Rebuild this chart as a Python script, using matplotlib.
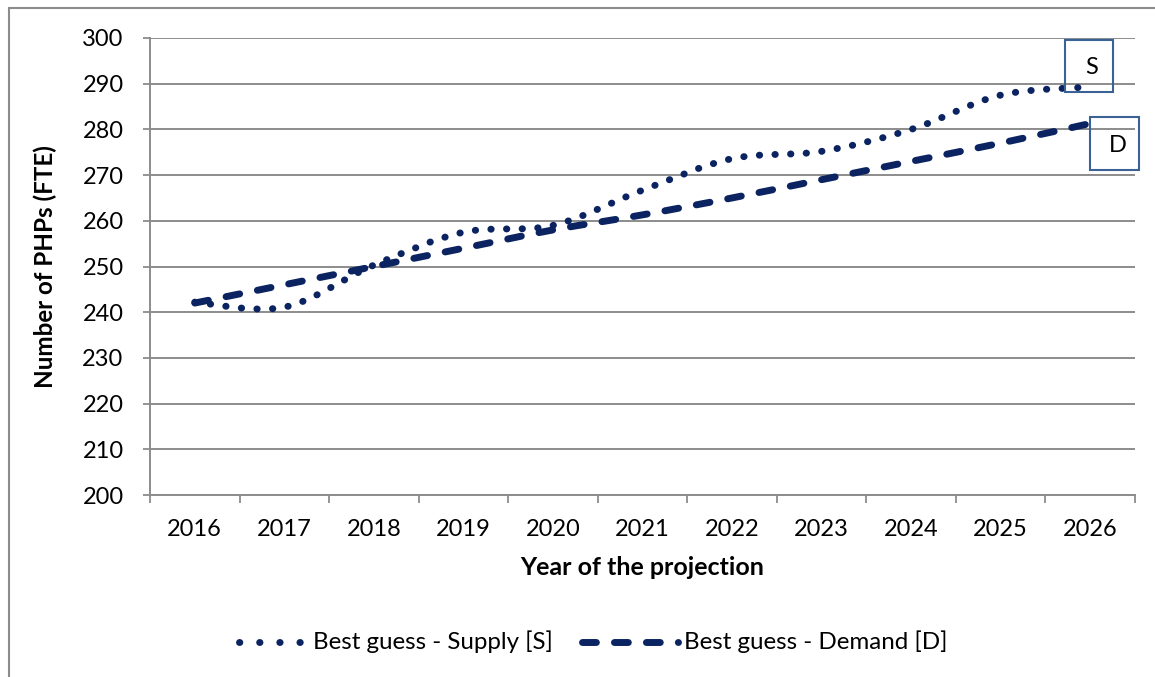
import numpy as np
import matplotlib
matplotlib.use("Agg")
import matplotlib.pyplot as plt
from matplotlib.path import Path
from matplotlib.patches import PathPatch, Rectangle
from matplotlib.lines import Line2D

years = ["2016", "2017", "2018", "2019", "2020", "2021", "2022", "2023", "2024", "2025", "2026"]
supply = [242.2, 241.1, 250.3, 257.5, 259.0, 266.7, 273.6, 275.2, 280.0, 287.5, 289.3]
demand = [242.0, 246.0, 250.0, 254.0, 258.0, 261.3, 265.0, 269.0, 273.0, 277.0, 281.3]
y_ticks = [200, 210, 220, 230, 240, 250, 260, 270, 280, 290, 300]
supply_label = "Best guess - Supply [S]"
demand_label = "Best guess - Demand [D]"

NAVY = "#0b2461"
GRID = "#8c8c8c"
BOXC = "#3a6296"

plt.rcParams["font.family"] = ["Lato", "DejaVu Sans"]

fig = plt.figure(figsize=(11.55, 6.77), dpi=100)
W, H = 1155, 677


def fx(px):
    return px / W


def fy(py):
    return 1 - py / H


# outer chart frame
fig.patches.append(Rectangle((fx(9), fy(700)), fx(1200), fy(8) - fy(700), transform=fig.transFigure,
                             fill=False, edgecolor="#8c8c8c", linewidth=1.5))

ax = fig.add_axes([fx(150), fy(495), fx(1135) - fx(150), fy(38) - fy(495)])
ax.set_xlim(-0.5, len(years) - 0.5)
ax.set_ylim(200, 300)


def smooth_path(xs, ys):
    # Excel-style smoothed line: cubic Bezier segments with Catmull-Rom tangents
    pts = np.column_stack([xs, ys]).astype(float)
    n = len(pts)
    verts = [pts[0]]
    codes = [Path.MOVETO]
    for i in range(n - 1):
        p0 = pts[i - 1] if i > 0 else pts[i]
        p1 = pts[i]
        p2 = pts[i + 1]
        p3 = pts[i + 2] if i + 2 < n else pts[i + 1]
        c1 = p1 + (p2 - p0) / 6.0
        c2 = p2 - (p3 - p1) / 6.0
        verts += [c1, c2, p2]
        codes += [Path.CURVE4] * 3
    return Path(verts, codes)


DOT_LW = 5.0
DOT = (0, (0.05, 2.2))
DASH = (0, (2.0, 2.6))

xs = np.arange(len(years))
sp = PathPatch(smooth_path(xs, supply), fill=False, edgecolor=NAVY, linewidth=DOT_LW,
               linestyle=DOT, capstyle="round", zorder=3)
dp = PathPatch(smooth_path(xs, demand), fill=False, edgecolor=NAVY, linewidth=5.0,
               linestyle=DASH, capstyle="round", zorder=4)
ax.add_patch(sp)
ax.add_patch(dp)

ax.set_xticks(xs)
ax.set_xticklabels(years)
ax.set_xticks(np.arange(-0.5, len(years), 1.0), minor=True)
ax.tick_params(axis="x", which="major", length=0, pad=17, labelsize=17)
ax.tick_params(axis="x", which="minor", length=6, width=1.3, color=GRID, direction="out")
ax.set_yticks(y_ticks)
ax.tick_params(axis="y", length=5, width=1.3, color=GRID, pad=14, labelsize=17)
ax.yaxis.grid(True, color=GRID, linewidth=1.4)
ax.set_axisbelow(True)
for s in ["top", "right"]:
    ax.spines[s].set_visible(False)
for s in ["left", "bottom"]:
    ax.spines[s].set_color(GRID)
    ax.spines[s].set_linewidth(1.4)
ax.spines["bottom"].set_zorder(2.5)

ax.set_xlabel("Year of the projection", fontsize=18, fontweight="bold", labelpad=12)
ax.set_ylabel("Number of PHPs (FTE)", fontsize=17.4, fontweight="bold", labelpad=18)

# S / D label boxes
fig.patches.append(Rectangle((fx(1065), fy(92)), fx(48), fy(40) - fy(92), transform=fig.transFigure,
                             fill=False, edgecolor=BOXC, linewidth=1.5, zorder=5))
fig.text(fx(1092), fy(68), "S", fontsize=17, ha="center", va="center", zorder=6)
fig.patches.append(Rectangle((fx(1090), fy(170)), fx(49), fy(117) - fy(170), transform=fig.transFigure,
                             fill=False, edgecolor=BOXC, linewidth=1.5, zorder=5))
fig.text(fx(1118), fy(146), "D", fontsize=17, ha="center", va="center", zorder=6)

# legend
ly = fy(642)
fig.lines.append(Line2D([fx(239), fx(303)], [ly, ly], transform=fig.transFigure, color=NAVY,
                        linewidth=DOT_LW, linestyle=(0, (0.05, 2.85)), dash_capstyle="round"))
fig.text(fx(313), ly, supply_label, fontsize=17.4, ha="left", va="center")
fig.lines.append(Line2D([fx(582), fx(678)], [ly, ly], transform=fig.transFigure, color=NAVY,
                        linewidth=5.0, linestyle=DASH, dash_capstyle="round"))
fig.text(fx(684), ly, demand_label, fontsize=17.4, ha="left", va="center")

fig.savefig("out.png", dpi=100)
